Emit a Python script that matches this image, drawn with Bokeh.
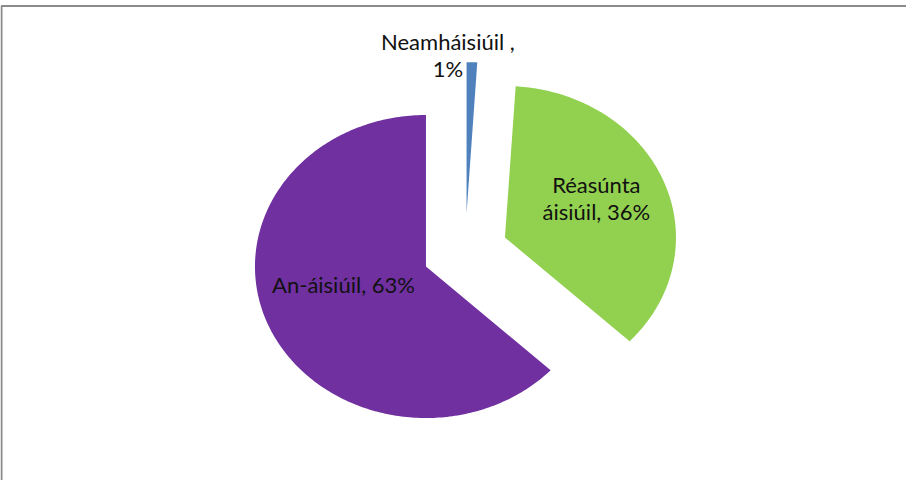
import numpy as np
from bokeh.plotting import figure
from bokeh.models import Range1d, ColumnDataSource
from bokeh.core.properties import value
from bokeh.embed import file_html
from bokeh.resources import INLINE

# ---- data ----
labels = ["Neamháisiúil", "Réasúnta áisiúil", "An-áisiúil"]
label_texts = ["Neamháisiúil ,\n1%", "Réasúnta\náisiúil, 36%", "An-áisiúil, 63%"]
percents = [1, 36, 63]
colors = ["#4F81BD", "#92D050", "#7030A0"]

# ---- layout constants ----
W, H = 906, 480
CX, CY = 472.7, 259.0      # pie centre in page pixels
RX, RY = 171.0, 151.5      # pixel size of one radius unit (x, y)
EXPLODE = 0.25
label_r = [1.0, 0.6, 0.5]
label_dx = [-24, -4, -4]
label_dy = [-7, -6, -12]
text_colors = ["#111111", "#111111", "#111111"]

p = figure(width=W, height=H, output_backend="svg", toolbar_location=None,
           x_range=Range1d((8 - CX) / RX, (8 + W - CX) / RX),
           y_range=Range1d((CY - (8 + H)) / RY, (CY - 8) / RY),
           min_border=0, outline_line_color=None)
p.axis.visible = False
p.grid.visible = False
p.background_fill_color = "white"
p.border_fill_color = "white"

total = float(sum(percents))
fr = np.array(percents) / total
cum = np.concatenate([[0], np.cumsum(fr)])
xs, ys, lx, ly = [], [], [], []
for i in range(len(percents)):
    a0, a1 = 2 * np.pi * cum[i], 2 * np.pi * cum[i + 1]
    mid = (a0 + a1) / 2
    vx, vy = EXPLODE * np.sin(mid), EXPLODE * np.cos(mid)
    t = np.linspace(a0, a1, max(8, int(400 * fr[i])))
    xs.append(list(np.concatenate([[vx], vx + np.sin(t)])))
    ys.append(list(np.concatenate([[vy], vy + np.cos(t)])))
    lx.append(vx + label_r[i] * np.sin(mid))
    ly.append(vy + label_r[i] * np.cos(mid))

p.patches(xs=xs, ys=ys, fill_color=colors, line_color=None)

src = ColumnDataSource(dict(x=lx, y=ly, text=label_texts, dx=label_dx,
                            dy=label_dy, c=text_colors))
p.text(x="x", y="y", text="text", x_offset="dx", y_offset="dy", source=src,
       text_align="center", text_baseline="middle", text_color="c",
       text_font=value("Lato"), text_font_size="22px", text_line_height=1.0)

# chart border
p.quad(left=[(9 - CX) / RX], right=[10], top=[(CY - 13.5) / RY], bottom=[-10],
       fill_color=None, line_color="#8a8a8a", line_width=2)

open("out.html", "w").write(file_html(p, INLINE))
